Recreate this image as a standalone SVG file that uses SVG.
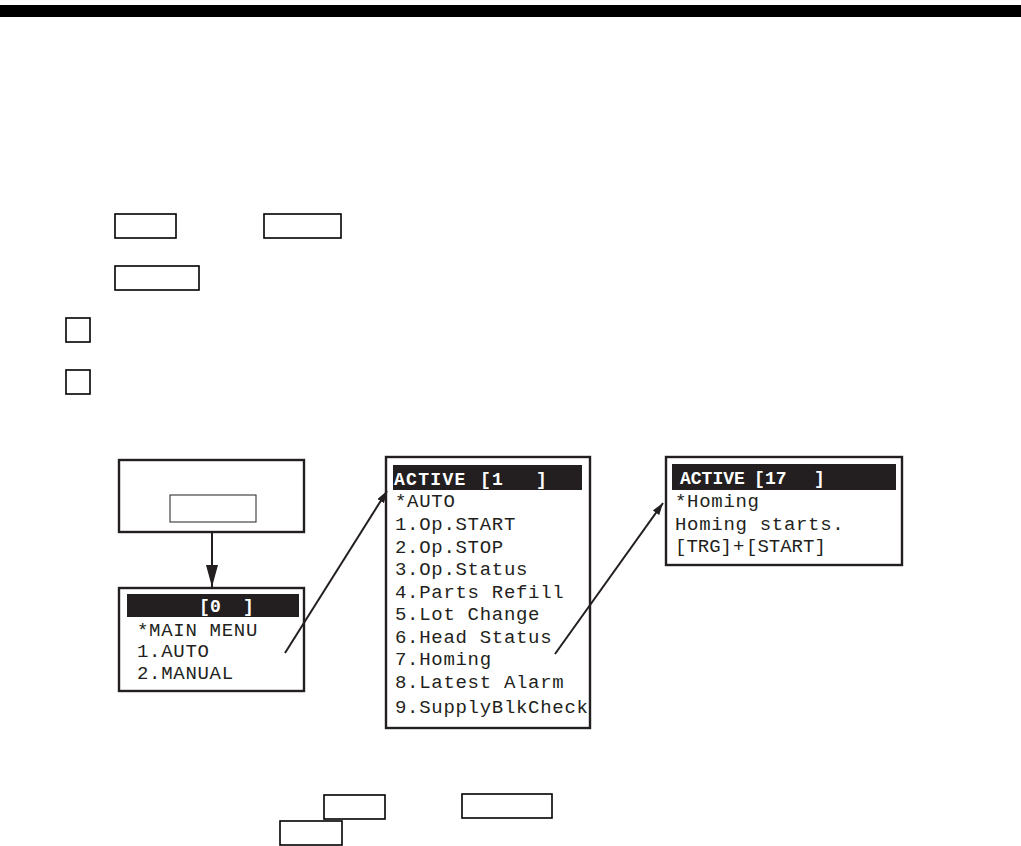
<svg xmlns="http://www.w3.org/2000/svg" width="1021" height="846" viewBox="0 0 1021 846">
<style>
.key{fill:none;stroke:#000;stroke-width:1.6}
.scr{fill:#fff;stroke:#231f20;stroke-width:2.4}
.hdr{fill:#231f20}
.t{font-family:"Liberation Mono","Courier New",monospace;font-size:19px;fill:#231f20;letter-spacing:0.7px}
.h{font-family:"Liberation Mono","Courier New",monospace;font-size:18px;font-weight:bold;fill:#fff}
.ln{stroke:#231f20;stroke-width:2;fill:none}
</style>
<defs>
<marker id="ah" viewBox="0 0 12 8" refX="12" refY="4" markerWidth="12" markerHeight="8" markerUnits="userSpaceOnUse" orient="auto"><path d="M0,0 L12,4 L0,8 z" fill="#231f20"/></marker>
<marker id="ahb" viewBox="0 0 22 12" refX="22" refY="6" markerWidth="22" markerHeight="12" markerUnits="userSpaceOnUse" orient="auto"><path d="M0,0 L22,6 L0,12 z" fill="#231f20"/></marker>
</defs>
<rect x="0" y="5" width="1021" height="12" fill="#000"/>
<g id="keys">
<rect class="key" x="115" y="214" width="61" height="24"/>
<rect class="key" x="264" y="214" width="77" height="24"/>
<rect class="key" x="115" y="266" width="84" height="24"/>
<rect class="key" x="66" y="318" width="24" height="24"/>
<rect class="key" x="66" y="370" width="24" height="24"/>
<rect class="key" x="324" y="795" width="61" height="24"/>
<rect class="key" x="462" y="794" width="90" height="24"/>
<rect class="key" x="280" y="821" width="62" height="24"/>
</g>
<g id="start-box">
<rect class="scr" x="119" y="460" width="185" height="72"/>
<rect fill="none" stroke="#231f20" stroke-width="1" x="170" y="495" width="86" height="27"/>
</g>
<g id="main-menu">
<rect class="scr" x="119" y="588" width="185" height="103"/>
<rect class="hdr" x="127" y="594" width="172" height="23"/>
<text class="h" y="612"><tspan x="199">[</tspan><tspan x="210">0</tspan><tspan x="243">]</tspan></text>
<text class="t" x="137" y="636">*MAIN MENU</text>
<text class="t" x="137" y="657">1.AUTO</text>
<text class="t" x="137" y="679">2.MANUAL</text>
</g>
<g id="auto-menu">
<rect class="scr" x="386" y="457" width="204" height="271"/>
<rect class="hdr" x="393" y="465" width="189" height="25"/>
<text class="h" y="485"><tspan x="394" letter-spacing="1.3">ACTIVE</tspan><tspan x="480">[</tspan><tspan x="492">1</tspan><tspan x="536">]</tspan></text>
<text class="t" x="395" y="507">*AUTO</text>
<text class="t" x="395" y="530">1.Op.START</text>
<text class="t" x="395" y="553">2.Op.STOP</text>
<text class="t" x="395" y="575">3.Op.Status</text>
<text class="t" x="395" y="598">4.Parts Refill</text>
<text class="t" x="395" y="620">5.Lot Change</text>
<text class="t" x="395" y="643">6.Head Status</text>
<text class="t" x="395" y="665">7.Homing</text>
<text class="t" x="395" y="688">8.Latest Alarm</text>
<text class="t" x="395" y="713" letter-spacing="0.4">9.SupplyBlkCheck</text>
</g>
<g id="homing-screen">
<rect class="scr" x="666" y="457" width="236" height="108"/>
<rect class="hdr" x="672" y="464" width="224" height="26"/>
<text class="h" y="484"><tspan x="680">ACTIVE</tspan><tspan x="754">[</tspan><tspan x="765">17</tspan><tspan x="814">]</tspan></text>
<text class="t" x="675" y="507">*Homing</text>
<text class="t" x="675" y="530">Homing starts.</text>
<text class="t" y="552" style="letter-spacing:0"><tspan x="675">[TRG]</tspan><tspan x="733">+</tspan><tspan x="746">[START]</tspan></text>
</g>
<g id="connectors">
<line class="ln" x1="212" y1="532" x2="212" y2="587" marker-end="url(#ahb)"/>
<line class="ln" x1="285" y1="653" x2="387" y2="491" marker-end="url(#ah)"/>
<line class="ln" x1="555" y1="654" x2="663" y2="503" marker-end="url(#ah)"/>
</g>
</svg>
